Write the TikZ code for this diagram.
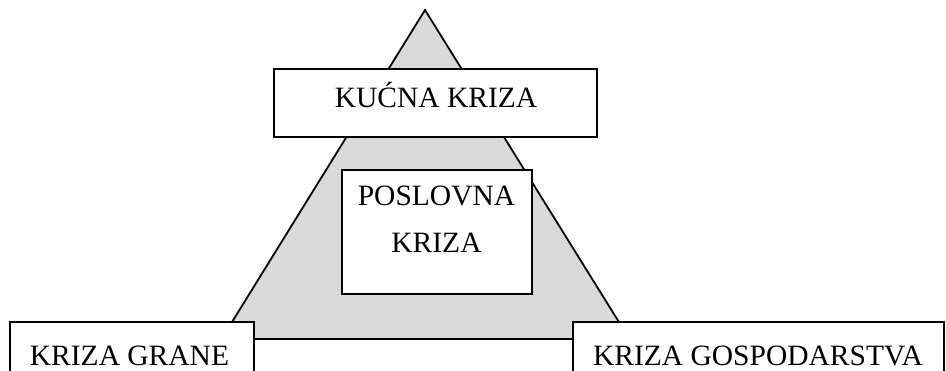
\documentclass[tikz,border=0pt]{standalone}
\usepackage{fontspec}
\setmainfont{Liberation Serif}
\begin{document}
\begin{tikzpicture}[x=1pt,y=-1pt,
  boxshape/.style={draw=black,fill=white,line width=2pt,rectangle,inner sep=0pt,outer sep=0pt},
  lbl/.style={anchor=base,inner sep=0pt,font=\fontsize{29.5}{36}\selectfont}]
\useasboundingbox (0,0) rectangle (946,370);
\clip (0,0) rectangle (946,370);
% triangle
\coordinate (apex) at (425,10);
\coordinate (bl) at (221.5,339);
\coordinate (br) at (629.5,339);
\draw[fill={rgb,255:red,217;green,217;blue,217},line width=1.8pt,line join=miter] (apex) -- (br) -- (bl) -- cycle;
% boxes
\node[boxshape,minimum width=323pt,minimum height=68pt] (kucna) at (435.5,103) {};
\node[boxshape,minimum width=190pt,minimum height=124pt] (poslovna) at (437,232) {};
\node[boxshape,minimum width=244pt,minimum height=80pt] (grane) at (132,362) {};
\node[boxshape,minimum width=371pt,minimum height=80pt] (gosp) at (758.5,362) {};
% labels
\node[lbl] (tk) at (436,107) {KUĆNA KRIZA};
\node[lbl] (tp1) at (436.5,205) {POSLOVNA};
\node[lbl] (tp2) at (436.5,252) {KRIZA};
\node[lbl] (tg) at (129.5,365) {KRIZA GRANE};
\node[lbl] (tgo) at (758,365) {KRIZA GOSPODARSTVA};
\end{tikzpicture}
\end{document}
